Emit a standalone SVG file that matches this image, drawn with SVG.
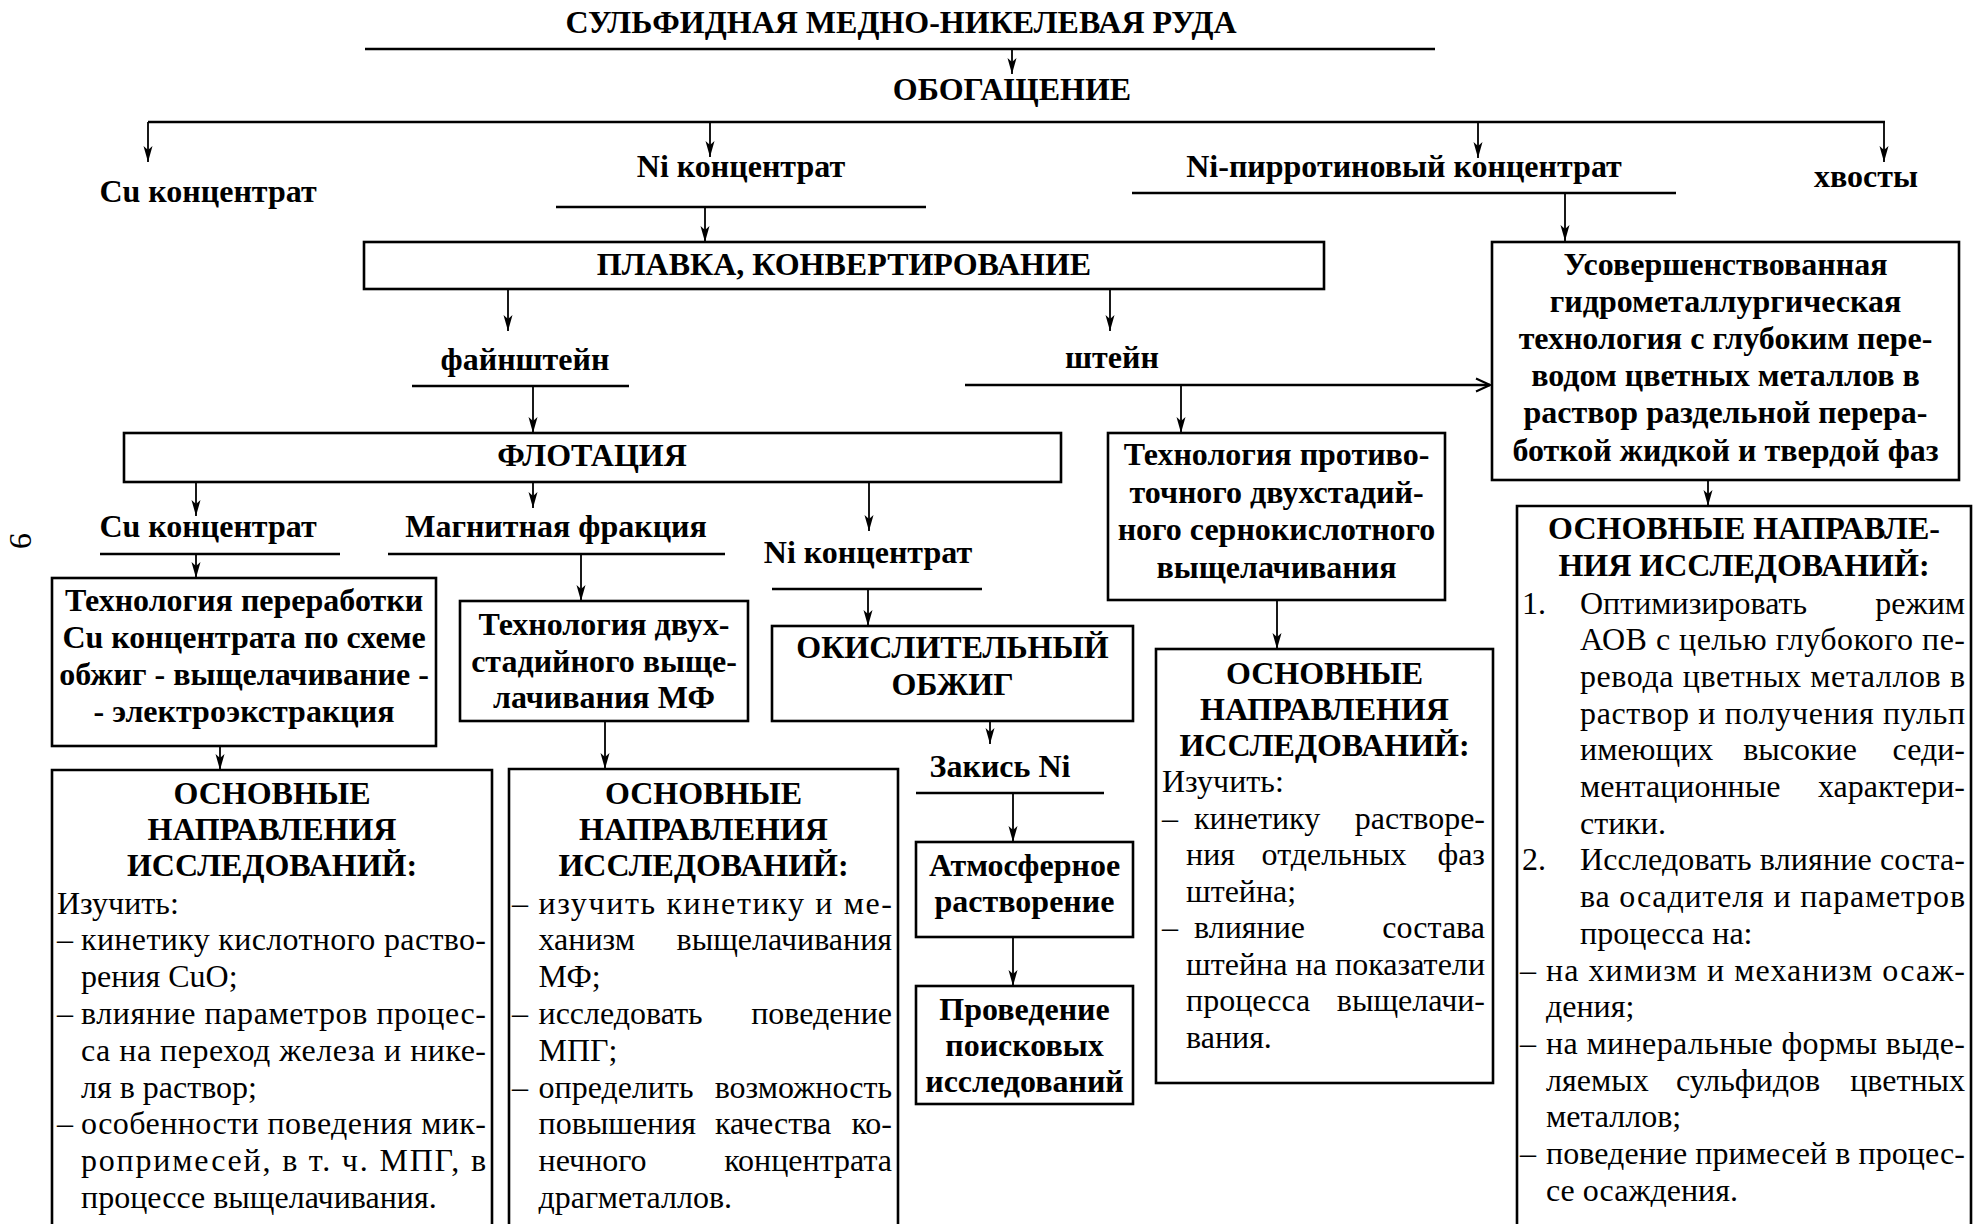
<svg xmlns="http://www.w3.org/2000/svg" width="1986" height="1224" viewBox="0 0 1986 1224">
<defs>
  <marker id="ah" viewBox="0 0 16 10" refX="16" refY="5" markerWidth="16" markerHeight="10" markerUnits="userSpaceOnUse" orient="auto">
    <path d="M0,0.5 L16,5 L0,9.5 L4,5 Z" fill="#000"/>
  </marker>
  <marker id="ao" viewBox="0 0 16 16" refX="15" refY="8" markerWidth="16" markerHeight="16" markerUnits="userSpaceOnUse" orient="auto">
    <path d="M1,1.5 L15,8 L1,14.5" fill="none" stroke="#000" stroke-width="2"/>
  </marker>
</defs>
<style>
  text { fill: #000; }
  .b { font-family: "Liberation Serif", "Times New Roman", serif; font-weight: bold; font-size: 32px; }
  .r { font-family: "Liberation Serif", "Times New Roman", serif; font-size: 32px; }
  .c { text-anchor: middle; }
  .e { text-anchor: end; }
  .box { fill: #fff; stroke: #000; stroke-width: 2.6; }
  .ln { stroke: #000; stroke-width: 2.6; fill: none; }
  .ar { stroke: #000; stroke-width: 1.8; fill: none; marker-end: url(#ah); }
</style>
<rect width="1986" height="1224" fill="#fff"/>

<!-- connectors: underlines, branch lines and arrows -->
<g id="connectors">
  <line class="ln" x1="365" y1="49" x2="1435" y2="49"/>
  <line class="ar" x1="1012" y1="49" x2="1012" y2="74"/>
  <line class="ln" x1="148" y1="122" x2="1885" y2="122"/>
  <line class="ar" x1="148" y1="122" x2="148" y2="162"/>
  <line class="ar" x1="710" y1="122" x2="710" y2="157"/>
  <line class="ar" x1="1478" y1="122" x2="1478" y2="158"/>
  <line class="ar" x1="1884" y1="122" x2="1884" y2="162"/>
  <line class="ln" x1="556" y1="207" x2="926" y2="207"/>
  <line class="ar" x1="705" y1="207" x2="705" y2="242"/>
  <line class="ln" x1="1132" y1="193" x2="1676" y2="193"/>
  <line class="ar" x1="1565" y1="193" x2="1565" y2="241"/>
  <line class="ar" x1="508" y1="289" x2="508" y2="331"/>
  <line class="ar" x1="1110" y1="289" x2="1110" y2="331"/>
  <line class="ln" x1="412" y1="386" x2="629" y2="386"/>
  <line class="ar" x1="533" y1="386" x2="533" y2="433"/>
  <line class="ln" x1="965" y1="385" x2="1490" y2="385" marker-end="url(#ao)"/>
  <line class="ar" x1="1181" y1="385" x2="1181" y2="433"/>
  <line class="ar" x1="196" y1="482" x2="196" y2="516"/>
  <line class="ar" x1="533" y1="482" x2="533" y2="508"/>
  <line class="ar" x1="869" y1="482" x2="869" y2="531"/>
  <line class="ln" x1="100" y1="554" x2="340" y2="554"/>
  <line class="ln" x1="388" y1="554" x2="725" y2="554"/>
  <line class="ln" x1="772" y1="589" x2="982" y2="589"/>
  <line class="ar" x1="196" y1="554" x2="196" y2="578"/>
  <line class="ar" x1="581" y1="554" x2="581" y2="601"/>
  <line class="ar" x1="868" y1="589" x2="868" y2="626"/>
  <line class="ar" x1="220" y1="746" x2="220" y2="770"/>
  <line class="ar" x1="605" y1="721" x2="605" y2="769"/>
  <line class="ar" x1="990" y1="721" x2="990" y2="744"/>
  <line class="ln" x1="916" y1="793" x2="1104" y2="793"/>
  <line class="ar" x1="1013" y1="793" x2="1013" y2="842"/>
  <line class="ar" x1="1013" y1="937" x2="1013" y2="986"/>
  <line class="ar" x1="1277" y1="600" x2="1277" y2="649"/>
  <line class="ar" x1="1708" y1="480" x2="1708" y2="506"/>
</g>

<!-- page number -->
<text class="r" transform="translate(10,533) rotate(90)">9</text>

<g id="ore"><text class="b c" x="901" y="33">СУЛЬФИДНАЯ МЕДНО-НИКЕЛЕВАЯ РУДА</text></g>
<g id="enrichment"><text class="b c" x="1012" y="100">ОБОГАЩЕНИЕ</text></g>
<g id="cu-conc-1"><text class="b c" x="208" y="202">Cu концентрат</text></g>
<g id="ni-conc-1"><text class="b c" x="741" y="177">Ni концентрат</text></g>
<g id="ni-pyrrhotite"><text class="b c" x="1404" y="177">Ni-пирротиновый концентрат</text></g>
<g id="tails"><text class="b c" x="1866" y="187">хвосты</text></g>

<g id="smelting">
  <rect class="box" x="364" y="242" width="960" height="47"/>
  <text class="b c" x="844" y="275">ПЛАВКА, КОНВЕРТИРОВАНИЕ</text>
</g>

<g id="hydro">
  <rect class="box" x="1492" y="242" width="467" height="238"/>
  <text class="b c" x="1725.5" y="274.5">Усовершенствованная</text>
  <text class="b c" x="1725.5" y="311.7">гидрометаллургическая</text>
  <text class="b c" x="1725.5" y="348.9">технология с глубоким пере-</text>
  <text class="b c" x="1725.5" y="386.1">водом цветных металлов в</text>
  <text class="b c" x="1725.5" y="423.3">раствор раздельной перера-</text>
  <text class="b c" x="1725.5" y="460.5">боткой жидкой и твердой фаз</text>
</g>

<g id="fine-matte"><text class="b c" x="525" y="370">файнштейн</text></g>
<g id="matte"><text class="b c" x="1112" y="368">штейн</text></g>

<g id="flotation">
  <rect class="box" x="124" y="433" width="937" height="49"/>
  <text class="b c" x="592" y="466">ФЛОТАЦИЯ</text>
</g>

<g id="counterflow">
  <rect class="box" x="1108" y="433" width="337" height="167"/>
  <text class="b c" x="1276.5" y="465">Технология противо-</text>
  <text class="b c" x="1276.5" y="503">точного двухстадий-</text>
  <text class="b c" x="1276.5" y="540">ного сернокислотного</text>
  <text class="b c" x="1276.5" y="578">выщелачивания</text>
</g>

<g id="cu-conc-2"><text class="b c" x="208" y="537">Cu концентрат</text></g>
<g id="magnetic"><text class="b c" x="556" y="537">Магнитная фракция</text></g>
<g id="ni-conc-2"><text class="b c" x="868" y="563">Ni концентрат</text></g>

<g id="cu-tech">
  <rect class="box" x="52" y="578" width="384" height="168"/>
  <text class="b c" x="244" y="611">Технология переработки</text>
  <text class="b c" x="244" y="648">Cu концентрата по схеме</text>
  <text class="b c" x="244" y="685">обжиг - выщелачивание -</text>
  <text class="b c" x="244" y="722">- электроэкстракция</text>
</g>

<g id="mf-tech">
  <rect class="box" x="460" y="601" width="288" height="120"/>
  <text class="b c" x="604" y="635">Технология двух-</text>
  <text class="b c" x="604" y="671.5">стадийного выще-</text>
  <text class="b c" x="604" y="708">лачивания МФ</text>
</g>

<g id="roasting">
  <rect class="box" x="772" y="626" width="361" height="95"/>
  <text class="b c" x="952.5" y="658">ОКИСЛИТЕЛЬНЫЙ</text>
  <text class="b c" x="952.5" y="695">ОБЖИГ</text>
</g>

<g id="ni-oxide"><text class="b c" x="1000" y="777">Закись Ni</text></g>

<g id="atm-leach">
  <rect class="box" x="916" y="842" width="217" height="95"/>
  <text class="b c" x="1024.5" y="876">Атмосферное</text>
  <text class="b c" x="1024.5" y="912">растворение</text>
</g>

<g id="search">
  <rect class="box" x="916" y="986" width="217" height="118"/>
  <text class="b c" x="1024.5" y="1020">Проведение</text>
  <text class="b c" x="1024.5" y="1056">поисковых</text>
  <text class="b c" x="1024.5" y="1092">исследований</text>
</g>

<g id="research-cu">
  <path class="box" d="M52,1232 V770 H492 V1232"/>
  <text class="b c" x="272" y="804">ОСНОВНЫЕ</text>
  <text class="b c" x="272" y="840">НАПРАВЛЕНИЯ</text>
  <text class="b c" x="272" y="876">ИССЛЕДОВАНИЙ:</text>
  <text class="r" x="57" y="913.5">Изучить:</text>
  <text class="r" x="57" y="950.3">–</text>
  <text class="r" x="81" y="950.3" textLength="405">кинетику кислотного раство-</text>
  <text class="r" x="81" y="987.1">рения CuO;</text>
  <text class="r" x="57" y="1023.9">–</text>
  <text class="r" x="81" y="1023.9" textLength="405">влияние параметров процес-</text>
  <text class="r" x="81" y="1060.7" textLength="405">са на переход железа и нике-</text>
  <text class="r" x="81" y="1097.5">ля в раствор;</text>
  <text class="r" x="57" y="1134.3">–</text>
  <text class="r" x="81" y="1134.3" textLength="405">особенности поведения мик-</text>
  <text class="r" x="81" y="1171.1" textLength="405">ропримесей, в т. ч. МПГ, в</text>
  <text class="r" x="81" y="1207.9">процессе выщелачивания.</text>
</g>

<g id="research-mf">
  <path class="box" d="M509,1232 V769 H898 V1232"/>
  <text class="b c" x="703.5" y="804">ОСНОВНЫЕ</text>
  <text class="b c" x="703.5" y="840">НАПРАВЛЕНИЯ</text>
  <text class="b c" x="703.5" y="876">ИССЛЕДОВАНИЙ:</text>
  <text class="r" x="512" y="913.5">–</text>
  <text class="r" x="538.5" y="913.5" textLength="353.5">изучить кинетику и ме-</text>
  <text class="r" x="538.5" y="950.3">ханизм</text>
  <text class="r e" x="892" y="950.3">выщелачивания</text>
  <text class="r" x="538.5" y="987.1">МФ;</text>
  <text class="r" x="512" y="1023.9">–</text>
  <text class="r" x="538.5" y="1023.9">исследовать</text>
  <text class="r e" x="892" y="1023.9">поведение</text>
  <text class="r" x="538.5" y="1060.7">МПГ;</text>
  <text class="r" x="512" y="1097.5">–</text>
  <text class="r" x="538.5" y="1097.5">определить</text>
  <text class="r e" x="892" y="1097.5">возможность</text>
  <text class="r" x="538.5" y="1134.3">повышения</text>
  <text class="r c" x="773" y="1134.3">качества</text>
  <text class="r e" x="892" y="1134.3">ко-</text>
  <text class="r" x="538.5" y="1171.1">нечного</text>
  <text class="r e" x="892" y="1171.1">концентрата</text>
  <text class="r" x="538.5" y="1207.9">драгметаллов.</text>
</g>

<g id="research-matte">
  <rect class="box" x="1156" y="649" width="337" height="434"/>
  <text class="b c" x="1324.5" y="684">ОСНОВНЫЕ</text>
  <text class="b c" x="1324.5" y="720">НАПРАВЛЕНИЯ</text>
  <text class="b c" x="1324.5" y="756">ИССЛЕДОВАНИЙ:</text>
  <text class="r" x="1162" y="792">Изучить:</text>
  <text class="r" x="1162" y="828.5">–</text>
  <text class="r" x="1194" y="828.5">кинетику</text>
  <text class="r e" x="1485" y="828.5">растворе-</text>
  <text class="r" x="1186" y="865">ния</text>
  <text class="r c" x="1334" y="865">отдельных</text>
  <text class="r e" x="1485" y="865">фаз</text>
  <text class="r" x="1186" y="901.5">штейна;</text>
  <text class="r" x="1162" y="938">–</text>
  <text class="r" x="1194" y="938">влияние</text>
  <text class="r e" x="1485" y="938">состава</text>
  <text class="r" x="1186" y="974.5" textLength="299">штейна на показатели</text>
  <text class="r" x="1186" y="1011">процесса</text>
  <text class="r e" x="1485" y="1011">выщелачи-</text>
  <text class="r" x="1186" y="1047.5">вания.</text>
</g>

<g id="research-hydro">
  <path class="box" d="M1517,1232 V506 H1971 V1232"/>
  <text class="b c" x="1744" y="539">ОСНОВНЫЕ НАПРАВЛЕ-</text>
  <text class="b c" x="1744" y="576">НИЯ ИССЛЕДОВАНИЙ:</text>
  <text class="r" x="1522" y="613.5">1.</text>
  <text class="r" x="1580" y="613.5">Оптимизировать</text>
  <text class="r e" x="1965" y="613.5">режим</text>
  <text class="r" x="1580" y="650.2" textLength="385">АОВ с целью глубокого пе-</text>
  <text class="r" x="1580" y="686.9" textLength="385">ревода цветных металлов в</text>
  <text class="r" x="1580" y="723.6" textLength="385">раствор и получения пульп</text>
  <text class="r" x="1580" y="760.3">имеющих</text>
  <text class="r c" x="1800" y="760.3">высокие</text>
  <text class="r e" x="1965" y="760.3">седи-</text>
  <text class="r" x="1580" y="797">ментационные</text>
  <text class="r e" x="1965" y="797">характери-</text>
  <text class="r" x="1580" y="833.7">стики.</text>
  <text class="r" x="1522" y="870.4">2.</text>
  <text class="r" x="1580" y="870.4" textLength="385">Исследовать влияние соста-</text>
  <text class="r" x="1580" y="907.1" textLength="385">ва осадителя и параметров</text>
  <text class="r" x="1580" y="943.8">процесса на:</text>
  <text class="r" x="1520" y="980.5">–</text>
  <text class="r" x="1546" y="980.5" textLength="419">на химизм и механизм осаж-</text>
  <text class="r" x="1546" y="1017.2">дения;</text>
  <text class="r" x="1520" y="1053.9">–</text>
  <text class="r" x="1546" y="1053.9" textLength="419">на минеральные формы выде-</text>
  <text class="r" x="1546" y="1090.6">ляемых</text>
  <text class="r c" x="1748" y="1090.6">сульфидов</text>
  <text class="r e" x="1965" y="1090.6">цветных</text>
  <text class="r" x="1546" y="1127.3">металлов;</text>
  <text class="r" x="1520" y="1164">–</text>
  <text class="r" x="1546" y="1164" textLength="419">поведение примесей в процес-</text>
  <text class="r" x="1546" y="1200.7">се осаждения.</text>
</g>
</svg>
